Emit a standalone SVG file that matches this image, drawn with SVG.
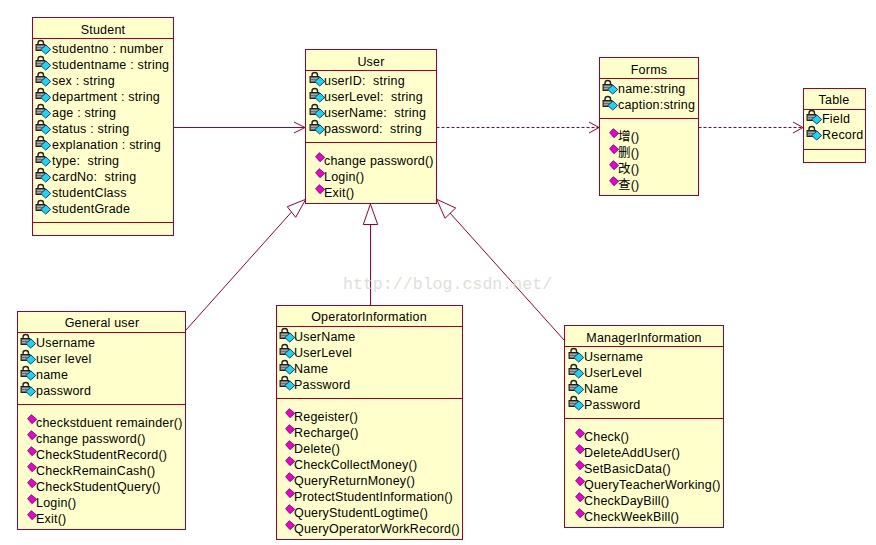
<svg xmlns="http://www.w3.org/2000/svg" xmlns:xlink="http://www.w3.org/1999/xlink" width="876" height="545" viewBox="0 0 876 545">
<style>
.box{fill:#ffffcb;stroke:#990033;stroke-width:1}
.sep{stroke:#990033;stroke-width:1;fill:none}
.t{font-family:"Liberation Sans",Arial,"Noto Sans CJK SC",sans-serif;font-size:12.5px;fill:#000;letter-spacing:.2px;white-space:pre}
.h{text-anchor:middle}
.c{fill:none;stroke:#990033;stroke-width:1}
.d{stroke-dasharray:3 2}
.wm{font-family:"Liberation Mono","DejaVu Sans Mono",monospace;font-size:16.6px;fill:#d8d8d0;opacity:.8}
</style>
<defs>
<g id="attr">
<path d="M1 -2.5v-1.5a2.6 2.4 0 0 1 5.5 0v1.5" fill="none" stroke="#222" stroke-width="1.4"/>
<rect x="-1" y="-2.5" width="9" height="6" fill="#707070" stroke="#111" stroke-width=".9"/>
<path d="M0 -.5h7M0 1.5h7" stroke="#bbb" stroke-width=".7"/>
<path d="M9 -2L13.7 2.5L8.7 7L3.7 2.5Z" fill="#16d6f0" stroke="#0b3f8a" stroke-width="1"/>
</g>
<g id="meth">
<path d="M0.6 -3.3L4.3 -7.3L9.7 -2.7L5 1.7Z" fill="#f000d0" stroke="#6a006a" stroke-width=".8"/>
</g>
</defs>
<g id="connectors">
<path class="c" d="M173.5 127.5H305M294 122L305 127.5L294 133"/>
<path class="c d" d="M436.5 127.5H599"/>
<path class="c" d="M589 122L599 127.5L589 133"/>
<path class="c d" d="M698.5 127.5H803"/>
<path class="c" d="M793 122L803 127.5L793 133"/>
<path class="c" d="M186 330L291.5 212M305.7 199.3L287.3 206.7L295.7 217.3Z"/>
<path class="c" d="M370.5 305V224.5M370.4 204L363.3 224.5H377.7Z"/>
<path class="c" d="M564 340L450 213M436.7 199.3L455.7 208L445 218.3Z"/>
</g>
<g id="student">
<rect class="box" x="32.5" y="17.5" width="141" height="218"/>
<path class="sep" d="M32.5 38.5H173.5M32.5 222.5H173.5"/>
<text class="t h" x="103" y="34">Student</text>
<use xlink:href="#attr" href="#attr" x="37" y="47"/><text class="t" x="52" y="53">studentno : number</text>
<use xlink:href="#attr" href="#attr" x="37" y="63"/><text class="t" x="52" y="69">studentname : string</text>
<use xlink:href="#attr" href="#attr" x="37" y="79"/><text class="t" x="52" y="85">sex : string</text>
<use xlink:href="#attr" href="#attr" x="37" y="95"/><text class="t" x="52" y="101">department : string</text>
<use xlink:href="#attr" href="#attr" x="37" y="111"/><text class="t" x="52" y="117">age : string</text>
<use xlink:href="#attr" href="#attr" x="37" y="127"/><text class="t" x="52" y="133">status : string</text>
<use xlink:href="#attr" href="#attr" x="37" y="143"/><text class="t" x="52" y="149">explanation : string</text>
<use xlink:href="#attr" href="#attr" x="37" y="159"/><text class="t" x="52" y="165">type:  string</text>
<use xlink:href="#attr" href="#attr" x="37" y="175"/><text class="t" x="52" y="181">cardNo:  string</text>
<use xlink:href="#attr" href="#attr" x="37" y="191"/><text class="t" x="52" y="197">studentClass</text>
<use xlink:href="#attr" href="#attr" x="37" y="207"/><text class="t" x="52" y="213">studentGrade</text>
</g>
<g id="user">
<rect class="box" x="305.5" y="49.5" width="131" height="154"/>
<path class="sep" d="M305.5 70.5H436.5M305.5 142.5H436.5"/>
<text class="t h" x="371" y="66">User</text>
<use xlink:href="#attr" href="#attr" x="311" y="79"/><text class="t" x="324" y="85">userID:  string</text>
<use xlink:href="#attr" href="#attr" x="311" y="95"/><text class="t" x="324" y="101">userLevel:  string</text>
<use xlink:href="#attr" href="#attr" x="311" y="111"/><text class="t" x="324" y="117">userName:  string</text>
<use xlink:href="#attr" href="#attr" x="311" y="127"/><text class="t" x="324" y="133">password:  string</text>
<use xlink:href="#meth" href="#meth" x="315" y="160"/><text class="t" x="324" y="165">change password()</text>
<use xlink:href="#meth" href="#meth" x="315" y="176"/><text class="t" x="324" y="181">Login()</text>
<use xlink:href="#meth" href="#meth" x="315" y="192"/><text class="t" x="324" y="197">Exit()</text>
</g>
<g id="forms">
<rect class="box" x="599.5" y="57.5" width="99" height="138"/>
<path class="sep" d="M599.5 78.5H698.5M599.5 118.5H698.5"/>
<text class="t h" x="649" y="74">Forms</text>
<use xlink:href="#attr" href="#attr" x="604" y="87"/><text class="t" x="618" y="93">name:string</text>
<use xlink:href="#attr" href="#attr" x="604" y="103"/><text class="t" x="618" y="109">caption:string</text>
<use xlink:href="#meth" href="#meth" x="609" y="136"/><text class="t" x="618" y="141">增()</text>
<use xlink:href="#meth" href="#meth" x="609" y="152"/><text class="t" x="618" y="157">删()</text>
<use xlink:href="#meth" href="#meth" x="609" y="168"/><text class="t" x="618" y="173">改()</text>
<use xlink:href="#meth" href="#meth" x="609" y="184"/><text class="t" x="618" y="189">查()</text>
</g>
<g id="table">
<rect class="box" x="803.5" y="88.5" width="62" height="74"/>
<path class="sep" d="M803.5 109.5H865.5M803.5 149.5H865.5"/>
<text class="t h" x="834" y="104">Table</text>
<use xlink:href="#attr" href="#attr" x="808" y="117"/><text class="t" x="822" y="123">Field</text>
<use xlink:href="#attr" href="#attr" x="808" y="133"/><text class="t" x="822" y="139">Record</text>
</g>
<g id="general-user">
<rect class="box" x="17.5" y="311.5" width="168" height="218"/>
<path class="sep" d="M17.5 332.5H185.5M17.5 404.5H185.5"/>
<text class="t h" x="102" y="327">General user</text>
<use xlink:href="#attr" href="#attr" x="22" y="341"/><text class="t" x="36" y="347">Username</text>
<use xlink:href="#attr" href="#attr" x="22" y="357"/><text class="t" x="36" y="363">user level</text>
<use xlink:href="#attr" href="#attr" x="22" y="373"/><text class="t" x="36" y="379">name</text>
<use xlink:href="#attr" href="#attr" x="22" y="389"/><text class="t" x="36" y="395">password</text>
<use xlink:href="#meth" href="#meth" x="27" y="422"/><text class="t" x="36" y="427">checkstduent remainder()</text>
<use xlink:href="#meth" href="#meth" x="27" y="438"/><text class="t" x="36" y="443">change password()</text>
<use xlink:href="#meth" href="#meth" x="27" y="454"/><text class="t" x="36" y="459">CheckStudentRecord()</text>
<use xlink:href="#meth" href="#meth" x="27" y="470"/><text class="t" x="36" y="475">CheckRemainCash()</text>
<use xlink:href="#meth" href="#meth" x="27" y="486"/><text class="t" x="36" y="491">CheckStudentQuery()</text>
<use xlink:href="#meth" href="#meth" x="27" y="502"/><text class="t" x="36" y="507">Login()</text>
<use xlink:href="#meth" href="#meth" x="27" y="518"/><text class="t" x="36" y="523">Exit()</text>
</g>
<g id="operator-information">
<rect class="box" x="276.5" y="305.5" width="186" height="234"/>
<path class="sep" d="M276.5 326.5H462.5M276.5 398.5H462.5"/>
<text class="t h" x="369" y="321">OperatorInformation</text>
<use xlink:href="#attr" href="#attr" x="281" y="335"/><text class="t" x="294" y="341">UserName</text>
<use xlink:href="#attr" href="#attr" x="281" y="351"/><text class="t" x="294" y="357">UserLevel</text>
<use xlink:href="#attr" href="#attr" x="281" y="367"/><text class="t" x="294" y="373">Name</text>
<use xlink:href="#attr" href="#attr" x="281" y="383"/><text class="t" x="294" y="389">Password</text>
<use xlink:href="#meth" href="#meth" x="285" y="416"/><text class="t" x="294" y="421">Regeister()</text>
<use xlink:href="#meth" href="#meth" x="285" y="432"/><text class="t" x="294" y="437">Recharge()</text>
<use xlink:href="#meth" href="#meth" x="285" y="448"/><text class="t" x="294" y="453">Delete()</text>
<use xlink:href="#meth" href="#meth" x="285" y="464"/><text class="t" x="294" y="469">CheckCollectMoney()</text>
<use xlink:href="#meth" href="#meth" x="285" y="480"/><text class="t" x="294" y="485">QueryReturnMoney()</text>
<use xlink:href="#meth" href="#meth" x="285" y="496"/><text class="t" x="294" y="501">ProtectStudentInformation()</text>
<use xlink:href="#meth" href="#meth" x="285" y="512"/><text class="t" x="294" y="517">QueryStudentLogtime()</text>
<use xlink:href="#meth" href="#meth" x="285" y="528"/><text class="t" x="294" y="533">QueryOperatorWorkRecord()</text>
</g>
<g id="manager-information">
<rect class="box" x="564.5" y="325.5" width="159" height="202"/>
<path class="sep" d="M564.5 346.5H723.5M564.5 418.5H723.5"/>
<text class="t h" x="644" y="342">ManagerInformation</text>
<use xlink:href="#attr" href="#attr" x="570" y="355"/><text class="t" x="584" y="361">Username</text>
<use xlink:href="#attr" href="#attr" x="570" y="371"/><text class="t" x="584" y="377">UserLevel</text>
<use xlink:href="#attr" href="#attr" x="570" y="387"/><text class="t" x="584" y="393">Name</text>
<use xlink:href="#attr" href="#attr" x="570" y="403"/><text class="t" x="584" y="409">Password</text>
<use xlink:href="#meth" href="#meth" x="575" y="436"/><text class="t" x="584" y="441">Check()</text>
<use xlink:href="#meth" href="#meth" x="575" y="452"/><text class="t" x="584" y="457">DeleteAddUser()</text>
<use xlink:href="#meth" href="#meth" x="575" y="468"/><text class="t" x="584" y="473">SetBasicData()</text>
<use xlink:href="#meth" href="#meth" x="575" y="484"/><text class="t" x="584" y="489">QueryTeacherWorking()</text>
<use xlink:href="#meth" href="#meth" x="575" y="500"/><text class="t" x="584" y="505">CheckDayBill()</text>
<use xlink:href="#meth" href="#meth" x="575" y="516"/><text class="t" x="584" y="521">CheckWeekBill()</text>
</g>
<text class="wm" x="343" y="289">http://blog.csdn.net/</text>
</svg>
